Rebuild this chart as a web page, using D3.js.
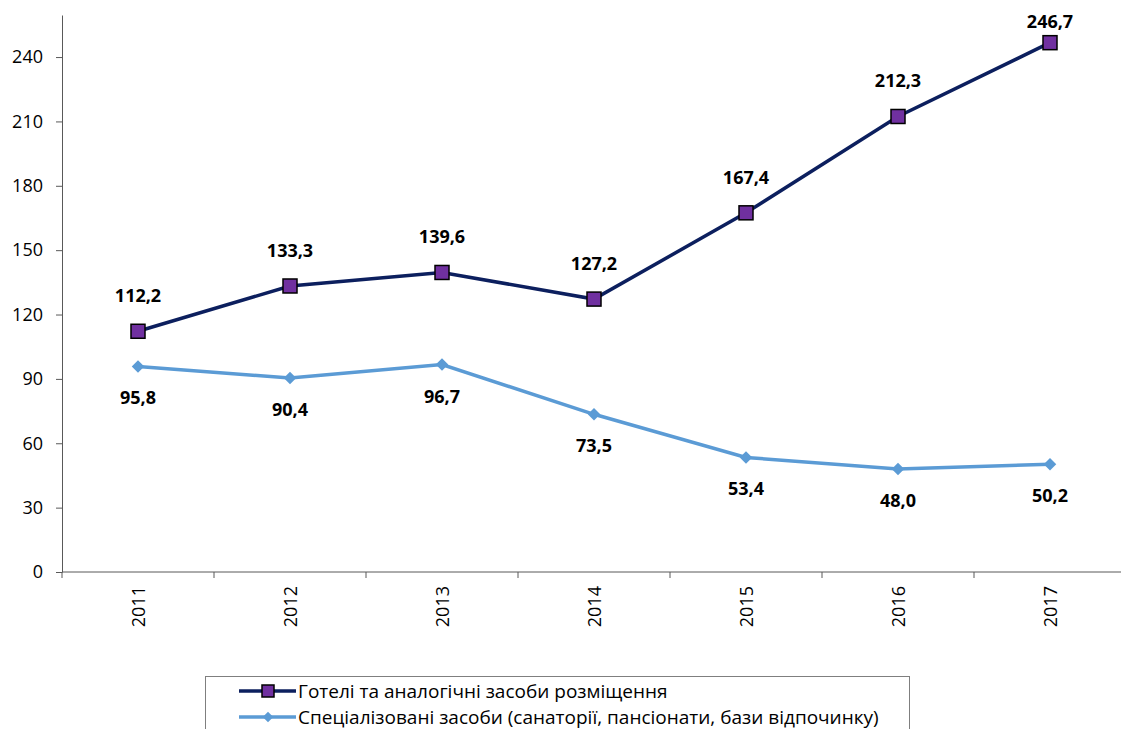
<!DOCTYPE html>
<html lang="uk">
<head>
<meta charset="UTF-8" />
<title>Засоби розміщення</title>
<script src="https://d3js.org/d3.v7.min.js"></script>
<style>
  body { margin: 0; background: #fff; }
  text { font-family: "Open Sans", "Liberation Sans", sans-serif; }
</style>
</head>
<body>
<div id="chart"></div>
<script>
// data
var years = ["2011", "2012", "2013", "2014", "2015", "2016", "2017"];
var hotels = [112.2, 133.3, 139.6, 127.2, 167.4, 212.3, 246.7];
var special = [95.8, 90.4, 96.7, 73.5, 53.4, 48.0, 50.2];
var yTicks = [0, 30, 60, 90, 120, 150, 180, 210, 240];
var seriesNames = ["Готелі та аналогічні засоби розміщення",
                   "Спеціалізовані засоби (санаторії, пансіонати, бази відпочинку)"];

var W = 1121, H = 729;
var margin = {top: 15, left: 62, bottom: 157};

var svg = d3.select("#chart").append("svg")
  .attr("width", W).attr("height", H);

var x = d3.scaleBand().domain(years).range([margin.left, margin.left + 152 * 7]);
var y = d3.scaleLinear().domain([0, 259.6]).range([H - margin.bottom, margin.top]);
var cx = function(d, i) { return x(years[i]) + x.bandwidth() / 2; };
var fmt = function(d) { return d.toFixed(1).replace(".", ","); };

// y axis
var yAxis = svg.append("g")
  .attr("transform", "translate(" + margin.left + ",0)")
  .call(d3.axisLeft(y).tickValues(yTicks).tickSize(6).tickSizeOuter(0).tickPadding(13));
yAxis.select(".domain").attr("stroke", "#595959");
yAxis.selectAll(".tick line").attr("stroke", "#595959");
yAxis.selectAll("text").attr("font-size", 18).attr("fill", "#000")
  .style("font-family", "'Open Sans', sans-serif");

// x axis
var xAxis = svg.append("g")
  .attr("transform", "translate(0," + y(0) + ")");
xAxis.append("line")
  .attr("x1", margin.left).attr("x2", W)
  .attr("stroke", "#595959");
xAxis.selectAll(".sep").data(d3.range(years.length + 1)).enter().append("line")
  .attr("x1", function(k) { return margin.left + k * x.step(); })
  .attr("x2", function(k) { return margin.left + k * x.step(); })
  .attr("y1", 0).attr("y2", 6)
  .attr("stroke", "#595959");
xAxis.selectAll(".yl").data(years).enter().append("text")
  .attr("transform", function(d, i) { return "translate(" + (cx(d, i) + 7) + ",14) rotate(-90)"; })
  .attr("text-anchor", "end")
  .attr("font-size", 18)
  .text(function(d) { return d; });

var line = d3.line().x(cx).y(function(d) { return y(d); });

// special series
svg.append("path").datum(special)
  .attr("fill", "none").attr("stroke", "#5b9bd5").attr("stroke-width", 3.5)
  .attr("d", line);
svg.selectAll(".dia").data(special).enter().append("path")
  .attr("d", d3.symbol().type(d3.symbolDiamond2).size(100))
  .attr("transform", function(d, i) { return "translate(" + cx(d, i) + "," + y(d) + ")"; })
  .attr("fill", "#5b9bd5");
svg.selectAll(".lblS").data(special).enter().append("text")
  .attr("x", cx).attr("y", function(d) { return y(d) + 38; })
  .attr("text-anchor", "middle").attr("font-size", 18).attr("font-weight", "bold")
  .text(fmt);

// hotels series
svg.append("path").datum(hotels)
  .attr("fill", "none").attr("stroke", "#0c1f5e").attr("stroke-width", 3.5)
  .attr("d", line);
svg.selectAll(".sq").data(hotels).enter().append("rect")
  .attr("x", function(d, i) { return cx(d, i) - 7; })
  .attr("y", function(d) { return y(d) - 7; })
  .attr("width", 14).attr("height", 14)
  .attr("fill", "#7030a0").attr("stroke", "#000").attr("stroke-width", 1.5);
svg.selectAll(".lblH").data(hotels).enter().append("text")
  .attr("x", cx).attr("y", function(d) { return Math.max(y(d) - 29, 28); })
  .attr("text-anchor", "middle").attr("font-size", 18).attr("font-weight", "bold")
  .text(fmt);

// legend
var lg = svg.append("g");
lg.append("rect").attr("x", 205.5).attr("y", 676.5).attr("width", 704).attr("height", 80)
  .attr("fill", "#fff").attr("stroke", "#7f7f7f");
var rows = [{y: 691, col: "#0c1f5e"}, {y: 717, col: "#5b9bd5"}];
rows.forEach(function(r, i) {
  lg.append("line").attr("x1", 239).attr("x2", 296).attr("y1", r.y).attr("y2", r.y)
    .attr("stroke", r.col).attr("stroke-width", 3.5);
  if (i === 0) {
    lg.append("rect").attr("x", 262).attr("y", r.y - 6).attr("width", 12).attr("height", 12)
      .attr("fill", "#7030a0").attr("stroke", "#000").attr("stroke-width", 1.5);
  } else {
    lg.append("path").attr("d", d3.symbol().type(d3.symbolDiamond2).size(70))
      .attr("transform", "translate(268," + r.y + ")").attr("fill", r.col);
  }
  lg.append("text").attr("x", 298).attr("y", r.y + 7).attr("font-size", 19)
    .text(seriesNames[i]);
});
</script>
</body>
</html>
